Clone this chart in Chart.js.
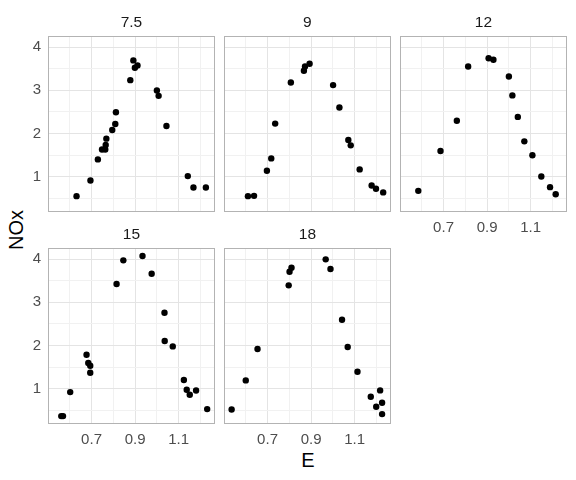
<!DOCTYPE html>
<html><head><meta charset="utf-8">
<script src="https://cdn.jsdelivr.net/npm/chart.js@4/dist/chart.umd.min.js"></script>
<style>
body{margin:0;background:#fff;width:576px;height:480px;position:relative;overflow:hidden;font-family:"Liberation Sans",Arial,sans-serif}
canvas{position:absolute}
.lab{position:absolute;color:#000;line-height:1;white-space:nowrap}
</style></head><body>
<div class="lab" style="font-size:20px;left:16px;top:230px;transform:translate(-50%,-50%) rotate(-90deg)">NOx</div>
<div class="lab" style="font-size:20px;left:308px;top:460px;transform:translate(-50%,-50%)">E</div>
<script>
// ---- data ----
const facets = ['7.5', '9', '12', '15', '18'];

const E_7_5   = [0.631,0.695,0.729,0.748,0.763,0.765,0.768,0.795,0.809,0.812,0.878,0.892,0.899,0.911,1.000,1.008,1.044,1.142,1.168,1.225];
const NOx_7_5 = [0.551,0.914,1.401,1.630,1.630,1.734,1.881,2.082,2.221,2.492,3.234,3.691,3.520,3.575,2.995,2.871,2.175,1.015,0.752,0.752];

const E_9   = [0.610,0.638,0.697,0.717,0.735,0.807,0.867,0.872,0.893,1.001,1.030,1.071,1.082,1.123,1.178,1.198,1.231];
const NOx_9 = [0.551,0.558,1.138,1.425,2.229,3.180,3.451,3.551,3.613,3.120,2.600,1.850,1.726,1.170,0.798,0.721,0.638];

const E_12   = [0.584,0.686,0.761,0.813,0.907,0.929,1.000,1.016,1.041,1.071,1.108,1.149,1.189,1.215];
const NOx_12 = [0.674,1.595,2.295,3.551,3.741,3.706,3.319,2.881,2.384,1.819,1.498,1.007,0.760,0.595];

const E_15   = [0.561,0.569,0.602,0.677,0.685,0.694,0.694,0.815,0.846,0.934,0.976,1.035,1.036,1.073,1.124,1.137,1.151,1.180,1.231];
const NOx_15 = [0.368,0.368,0.923,1.787,1.594,1.532,1.370,3.422,3.969,4.069,3.661,2.758,2.103,1.979,1.201,0.977,0.861,0.961,0.530];

const E_18   = [0.535,0.600,0.654,0.797,0.801,0.810,0.967,0.989,1.042,1.068,1.113,1.174,1.199,1.217,1.226,1.226];
const NOx_18 = [0.522,1.193,1.918,3.391,3.707,3.799,3.992,3.769,2.596,1.964,1.393,0.815,0.584,0.962,0.677,0.414];

const xMajor = [0.7, 0.9, 1.1];
const xMajorLabels = ['0.7', '0.9', '1.1'];
const xMinor = [0.6, 0.8, 1.0, 1.2];
const yMajor = [1, 2, 3, 4];
const yMajorLabels = ['1', '2', '3', '4'];
const yMinor = [0.5, 1.5, 2.5, 3.5];

const xLimits = [0.500, 1.266];
const yLimits = [0.185, 4.255];

const seriesE = [E_7_5, E_9, E_12, E_15, E_18];
const seriesNOx = [NOx_7_5, NOx_9, NOx_12, NOx_15, NOx_18];

// ---- layout ----
const panelLefts = [48, 224, 400];
const panelTops = [36, 248];
const PW = 168, PH = 176;
const LW = 44, TH = 36, BH = 30, RP = 2;

const FONT = '"Liberation Sans", Arial, sans-serif';
const near = (a, v) => a.findIndex(t => Math.abs(t - v) < 1e-6);

const borderPlugin = {
  id: 'panelBorder',
  afterDatasetsDraw(chart) {
    const { ctx, chartArea: a } = chart;
    ctx.save();
    ctx.strokeStyle = '#b3b3b3';
    ctx.lineWidth = 1;
    ctx.strokeRect(Math.round(a.left) + 0.5, Math.round(a.top) + 0.5,
                   Math.round(a.right - a.left) - 1, Math.round(a.bottom - a.top) - 1);
    ctx.restore();
  }
};

facets.forEach((name, i) => {
  const col = i % 3, row = Math.floor(i / 3);
  const showY = col === 0;
  const showX = i >= 2;
  const cv = document.createElement('canvas');
  const w = LW + PW + RP, h = TH + PH + BH;
  cv.width = w; cv.height = h;
  cv.style.width = w + 'px'; cv.style.height = h + 'px';
  cv.style.left = (panelLefts[col] - LW) + 'px';
  cv.style.top = (panelTops[row] - TH) + 'px';
  document.body.appendChild(cv);

  const pts = seriesE[i].map((e, k) => ({ x: e, y: seriesNOx[i][k] }));

  new Chart(cv, {
    type: 'scatter',
    data: { datasets: [{ data: pts, backgroundColor: '#000', borderWidth: 0, pointRadius: 3.2, pointHoverRadius: 3.2 }] },
    options: {
      responsive: false, animation: false, devicePixelRatio: 1,
      layout: { padding: { left: 0, right: RP, top: 0, bottom: 0 } },
      plugins: {
        legend: { display: false }, tooltip: { enabled: false },
        title: { display: true, fullSize: false, text: name, color: '#1a1a1a',
                 font: { family: FONT, size: 15.5, weight: 'normal' },
                 padding: { top: 13.3, bottom: 4.1 } }
      },
      scales: {
        x: {
          type: 'linear', min: xLimits[0], max: xLimits[1],
          afterBuildTicks: s => { s.ticks = xMinor.concat(xMajor).sort((a, b) => a - b).map(v => ({ value: v })); },
          afterFit: s => { s.height = BH; },
          grid: { drawTicks: false, lineWidth: 1,
                  color: c => near(xMajor, c.tick.value) >= 0 ? '#e4e4e4' : '#f1f1f1' },
          border: { display: false },
          ticks: { display: showX, padding: 7, color: '#4d4d4d', maxRotation: 0, autoSkip: false,
                   font: { family: FONT, size: 15 },
                   callback: v => { const k = near(xMajor, v); return k >= 0 ? xMajorLabels[k] : ''; } }
        },
        y: {
          type: 'linear', min: yLimits[0], max: yLimits[1],
          afterBuildTicks: s => { s.ticks = yMinor.concat(yMajor).sort((a, b) => a - b).map(v => ({ value: v })); },
          afterFit: s => { s.width = LW; },
          grid: { drawTicks: false, lineWidth: 1,
                  color: c => near(yMajor, c.tick.value) >= 0 ? '#e4e4e4' : '#f1f1f1' },
          border: { display: false },
          ticks: { display: showY, padding: 7, color: '#4d4d4d', autoSkip: false,
                   font: { family: FONT, size: 15 },
                   callback: v => { const k = near(yMajor, v); return k >= 0 ? yMajorLabels[k] : ''; } }
        }
      }
    },
    plugins: [borderPlugin]
  });
});
</script>
</body></html>
